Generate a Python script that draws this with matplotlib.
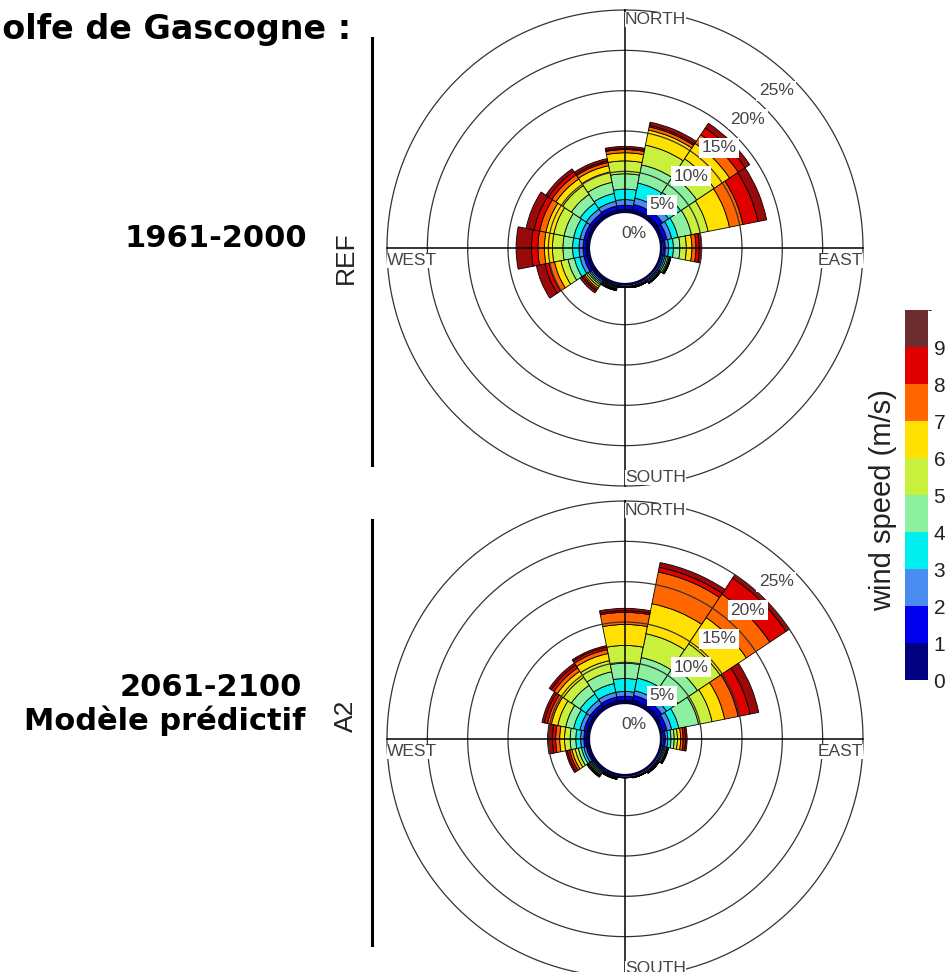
import numpy as np
import matplotlib
matplotlib.use('Agg')
import matplotlib.pyplot as plt
import matplotlib.colors as mcolors
from matplotlib.colorbar import ColorbarBase
from matplotlib.lines import Line2D

# ==========================================
# DATA
# ==========================================
DIRECTIONS = ['N', 'NNE', 'NE', 'ENE', 'E', 'ESE', 'SE', 'SSE',
              'S', 'SSW', 'SW', 'WSW', 'W', 'WNW', 'NW', 'NNW']
SPEED_EDGES = [0, 1, 2, 3, 4, 5, 6, 7, 8, 9, 10]
SPEED_TICKS = [0, 1, 2, 3, 4, 5, 6, 7, 8, 9]
RING_LEVELS = [5, 10, 15, 20, 25]

# frequency (%) per direction, per speed class 0-1, 1-2, ..., 8-9, 9+
REF_FREQ = [
    [0.3, 0.5, 0.7, 1.3, 1.9, 1.6, 1.0, 0.4, 0.15, 0.25],      # N
    [0.4, 0.6, 0.8, 1.9, 2.3, 2.5, 1.9, 0.4, 0.2, 0.4],        # NNE
    [0.4, 0.7, 0.9, 1.8, 2.4, 2.6, 2.3, 1.3, 1.0, 0.7],        # NE
    [0.3, 0.5, 0.6, 0.8, 1.7, 2.1, 2.7, 1.7, 1.9, 1.1],        # ENE
    [0.2, 0.3, 0.4, 0.6, 0.8, 0.8, 0.7, 0.5, 0.4, 0.3],        # E
    [0.15, 0.2, 0.2, 0.2, 0.2, 0.15, 0.1, 0.05, 0.05, 0.0],    # ESE
    [0.15, 0.15, 0.15, 0.15, 0.1, 0.05, 0.03, 0.02, 0.0, 0.0], # SE
    [0.15, 0.1, 0.1, 0.08, 0.05, 0.02, 0.0, 0.0, 0.0, 0.0],    # SSE
    [0.15, 0.1, 0.07, 0.05, 0.03, 0.0, 0.0, 0.0, 0.0, 0.0],    # S
    [0.15, 0.12, 0.12, 0.12, 0.12, 0.1, 0.07, 0.05, 0.03, 0.02],  # SSW
    [0.2, 0.2, 0.2, 0.2, 0.2, 0.25, 0.25, 0.2, 0.2, 0.3],      # SW
    [0.3, 0.4, 0.5, 0.7, 0.8, 0.9, 0.8, 0.7, 0.5, 1.1],        # WSW
    [0.3, 0.4, 0.5, 0.8, 1.2, 1.3, 1.0, 0.8, 0.8, 1.9],        # W
    [0.3, 0.4, 0.5, 0.8, 1.2, 1.3, 1.0, 0.8, 0.7, 1.0],        # WNW
    [0.3, 0.4, 0.6, 0.9, 1.3, 1.3, 1.0, 0.6, 0.5, 0.4],        # NW
    [0.3, 0.5, 0.6, 1.0, 1.4, 1.3, 0.8, 0.4, 0.2, 0.3],        # NNW
]

A2_FREQ = [
    [0.3, 0.5, 0.6, 1.6, 1.9, 2.2, 2.6, 1.5, 0.2, 0.3],        # N
    [0.4, 0.6, 0.6, 1.6, 2.6, 3.0, 3.8, 4.0, 0.6, 0.6],        # NNE
    [0.4, 0.6, 0.7, 1.7, 2.9, 3.4, 3.9, 3.5, 2.4, 0.5],        # NE
    [0.3, 0.5, 0.6, 0.9, 2.5, 1.7, 1.6, 1.7, 1.5, 1.1],        # ENE
    [0.2, 0.3, 0.3, 0.4, 0.4, 0.4, 0.4, 0.3, 0.3, 0.2],        # E
    [0.15, 0.15, 0.15, 0.15, 0.15, 0.1, 0.07, 0.05, 0.02, 0.01],  # ESE
    [0.15, 0.12, 0.1, 0.08, 0.06, 0.04, 0.03, 0.02, 0.0, 0.0], # SE
    [0.12, 0.1, 0.08, 0.05, 0.03, 0.02, 0.0, 0.0, 0.0, 0.0],   # SSE
    [0.12, 0.08, 0.05, 0.03, 0.02, 0.0, 0.0, 0.0, 0.0, 0.0],   # S
    [0.12, 0.1, 0.08, 0.08, 0.07, 0.05, 0.04, 0.03, 0.02, 0.01],  # SSW
    [0.15, 0.15, 0.15, 0.15, 0.15, 0.15, 0.1, 0.1, 0.05, 0.05],   # SW
    [0.2, 0.2, 0.3, 0.3, 0.4, 0.4, 0.4, 0.3, 0.3, 0.2],        # WSW
    [0.3, 0.3, 0.4, 0.6, 0.7, 0.7, 0.6, 0.5, 0.4, 0.6],        # W
    [0.3, 0.4, 0.5, 0.8, 1.0, 1.0, 0.8, 0.5, 0.4, 0.3],        # WNW
    [0.3, 0.4, 0.6, 0.9, 1.3, 1.2, 0.9, 0.5, 0.4, 0.3],        # NW
    [0.3, 0.5, 0.6, 1.1, 1.5, 1.4, 0.9, 0.5, 0.3, 0.2],        # NNW
]

# ==========================================
# STYLE
# ==========================================
CLASS_COLORS = ['#000080', '#0000F0', '#4A8CEF', '#00F0F0', '#8CF0A0',
                '#C8F03C', '#FFE000', '#FF6600', '#E00000', '#6B2D2D']
BAR_COLORS = CLASS_COLORS[:-1] + ['#9A0A0A']   # outer class looks dark red in the roses

HOLE = 4.5          # empty centre, in % units
W, H = 947, 972     # figure size in pixels
LABEL_FONT = ['Liberation Sans', 'DejaVu Sans']
BIG_FONT = ['DejaVu Sans']

fig = plt.figure(figsize=(W / 100, H / 100), dpi=100)
fig.patch.set_facecolor('white')


def px_axes(x0, y0, w, h, **kw):
    # axes box given in pixels from the top-left corner
    return fig.add_axes([x0 / W, 1 - (y0 + h) / H, w / W, h / H], **kw)


def draw_rose(cx, cy, radius, freq):
    ax = px_axes(cx - radius, cy - radius, 2 * radius, 2 * radius, projection='polar')
    ax.set_theta_zero_location('N')
    ax.set_theta_direction(-1)
    rmax = HOLE + RING_LEVELS[-1]
    ax.set_ylim(0, rmax)
    ax.set_xticks([])
    ax.set_yticks([])
    ax.grid(False)
    ax.spines['polar'].set_visible(False)
    ax.patch.set_alpha(0)

    freq = np.array(freq)
    theta = np.deg2rad(np.arange(len(DIRECTIONS)) * 22.5)
    width = np.deg2rad(22.5)
    bottom = np.full(len(DIRECTIONS), HOLE)
    for k in range(freq.shape[1]):
        ax.bar(theta, freq[:, k], width=width, bottom=bottom, color=BAR_COLORS[k],
               edgecolor='black', linewidth=0.6, zorder=2)
        bottom = bottom + freq[:, k]

    t = np.linspace(0, 2 * np.pi, 500)
    for lev in RING_LEVELS:
        ax.plot(t, np.full_like(t, HOLE + lev), color='#333333', lw=0.9, zorder=3,
                clip_on=False)
    for ang in [0, np.pi / 2, np.pi, 3 * np.pi / 2]:
        ax.plot([ang, ang], [0, rmax], color='black', lw=1.1, zorder=3, clip_on=False)

    # white centre with a dark edge
    ax.fill_between(t, 0, HOLE, color='white', zorder=4)
    ax.plot(t, np.full_like(t, HOLE), color='#000040', lw=2.0, zorder=4)

    for lev in [0] + RING_LEVELS:
        ax.annotate(f'{lev}%', xy=(np.pi / 4, HOLE + lev), xytext=(-17, -11),
                    textcoords='offset pixels', ha='center', va='center',
                    fontsize=12.5, color='#444444', family=LABEL_FONT, zorder=6,
                    bbox=dict(boxstyle='square,pad=0.15', fc='white', ec='none'))

    kw = dict(transform=ax.transAxes, fontsize=12.5, color='#444444', family=LABEL_FONT,
              zorder=6, bbox=dict(boxstyle='square,pad=0.0', fc='white', ec='none'))
    ax.text(0.5, 0.995, 'NORTH', ha='left', va='top', **kw)
    ax.text(0.5, 0.003, 'SOUTH', ha='left', va='bottom', **kw)
    ax.text(0.0, 0.49, 'WEST', ha='left', va='top', **kw)
    ax.text(1.0, 0.49, 'EAST', ha='right', va='top', **kw)
    return ax


draw_rose(625, 248, 238, REF_FREQ)
draw_rose(625, 739, 238, A2_FREQ)

# ==========================================
# SIDE LABELS
# ==========================================
def fig_text(x, y, s, **kw):
    fig.text(x / W, 1 - y / H, s, **kw)


# the first letter of the title falls outside the left edge, as in the source
fig_text(351, 30, 'Golfe de Gascogne :', ha='right', va='center', fontsize=24,
         fontweight='bold', family=BIG_FONT)
fig_text(307, 238, '1961-2000', ha='right', va='center', fontsize=22,
         fontweight='bold', family=BIG_FONT)
fig_text(302, 688, '2061-2100', ha='right', va='center', fontsize=22,
         fontweight='bold', family=BIG_FONT)
fig_text(305, 721, 'Modèle prédictif', ha='right', va='center', fontsize=22,
         fontweight='bold', family=BIG_FONT)
fig_text(346, 258, 'REF', ha='center', va='center', rotation=90, fontsize=19,
         family=LABEL_FONT, color='#222222')
fig_text(346, 716, 'A2', ha='center', va='center', rotation=90, fontsize=19,
         family=LABEL_FONT, color='#222222')

for y0, y1 in [(38, 465), (520, 945)]:
    fig.add_artist(Line2D([372 / W, 372 / W], [1 - y0 / H, 1 - y1 / H],
                          color='black', lw=2.2))

# ==========================================
# COLORBAR
# ==========================================
cax = px_axes(905, 310, 23, 370)
cmap = mcolors.ListedColormap(CLASS_COLORS)
norm = mcolors.BoundaryNorm(SPEED_EDGES, cmap.N)
cb = ColorbarBase(cax, cmap=cmap, norm=norm, ticks=SPEED_TICKS, orientation='vertical')
cb.outline.set_visible(False)
cax.tick_params(length=0, labelsize=15, pad=4, colors='#222222')
for lab in cax.get_yticklabels():
    lab.set_family(LABEL_FONT)
fig_text(883, 500, 'wind speed (m/s)', ha='center', va='center', rotation=90,
         fontsize=21, family=LABEL_FONT, color='#222222')

fig.savefig('out.png', dpi=100, facecolor='white')
